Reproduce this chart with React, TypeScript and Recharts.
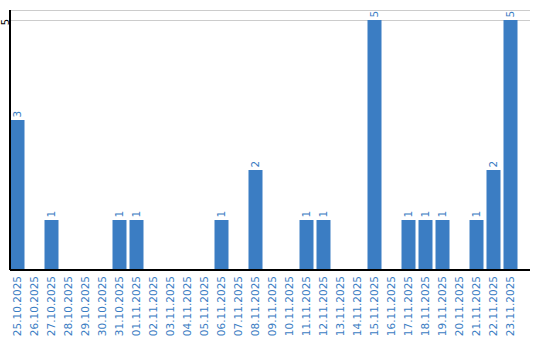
import React from "react";
import { BarChart, Bar, XAxis, YAxis, CartesianGrid, LabelList } from "recharts";

const dates = [
  "25.10.2025", "26.10.2025", "27.10.2025", "28.10.2025", "29.10.2025", "30.10.2025",
  "31.10.2025", "01.11.2025", "02.11.2025", "03.11.2025", "04.11.2025", "05.11.2025",
  "06.11.2025", "07.11.2025", "08.11.2025", "09.11.2025", "10.11.2025", "11.11.2025",
  "12.11.2025", "13.11.2025", "14.11.2025", "15.11.2025", "16.11.2025", "17.11.2025",
  "18.11.2025", "19.11.2025", "20.11.2025", "21.11.2025", "22.11.2025", "23.11.2025",
];
const counts = [3, 0, 1, 0, 0, 0, 1, 1, 0, 0, 0, 0, 1, 0, 2, 0, 0, 1, 1, 0, 0, 5, 0, 1, 1, 1, 0, 1, 2, 5];
const yTicks = [5];

const data = dates.map((d, i) => ({ date: d, count: counts[i] }));

const BLUE = "#3b7dc3";
const FONT = "'DejaVu Sans', sans-serif";
const FS = 10.5;

const XTick = (props: any) => {
  const { x, y, payload } = props;
  return (
    <text
      x={x}
      y={y}
      transform={`rotate(-90, ${x}, ${y})`}
      textAnchor="end"
      dy="0.35em"
      fill={BLUE}
      fontSize={FS}
      fontFamily={FONT}
    >
      {payload.value}
    </text>
  );
};

const YTick = (props: any) => {
  const { y, payload } = props;
  const x = 5;
  return (
    <text
      x={x}
      y={y + 2}
      transform={`rotate(-90, ${x}, ${y + 2})`}
      textAnchor="middle"
      dy="0.35em"
      fill="#000"
      fontSize={10}
      fontFamily={FONT}
    >
      {payload.value}
    </text>
  );
};

const BarLabel = (props: any) => {
  const { x, y, width, value } = props;
  if (!value) return null;
  const cx = x + width / 2;
  const cy = y - 2.5;
  return (
    <text
      x={cx}
      y={cy}
      transform={`rotate(-90, ${cx}, ${cy})`}
      textAnchor="start"
      dy="0.35em"
      fill={BLUE}
      fontSize={FS}
      fontFamily={FONT}
    >
      {value}
    </text>
  );
};

export default function App() {
  return (
    <div style={{ position: "absolute", left: 0, top: 0, width: 540, height: 340, background: "#fff" }}>
      <BarChart
        width={540}
        height={340}
        data={data}
        margin={{ top: 10, right: 10, bottom: 0, left: 0 }}
        barSize={14}
      >
        <CartesianGrid vertical={false} stroke="#cccccc" shapeRendering="crispEdges" />
        <XAxis
          dataKey="date"
          interval={0}
          height={70}
          tickLine={false}
          axisLine={{ stroke: "#000", strokeWidth: 1.5, shapeRendering: "crispEdges" }}
          tick={<XTick />}
          tickMargin={0}
          padding={{ left: -1.5, right: 11.5 }}
        />
        <YAxis
          width={10}
          domain={[0, 5.2]}
          ticks={yTicks}
          tickLine={false}
          axisLine={{ stroke: "#000", strokeWidth: 1.5, shapeRendering: "crispEdges" }}
          tick={<YTick />}
          allowDataOverflow
        />
        <Bar dataKey="count" fill={BLUE} isAnimationActive={false}>
          <LabelList dataKey="count" content={<BarLabel />} />
        </Bar>
      </BarChart>
    </div>
  );
}
